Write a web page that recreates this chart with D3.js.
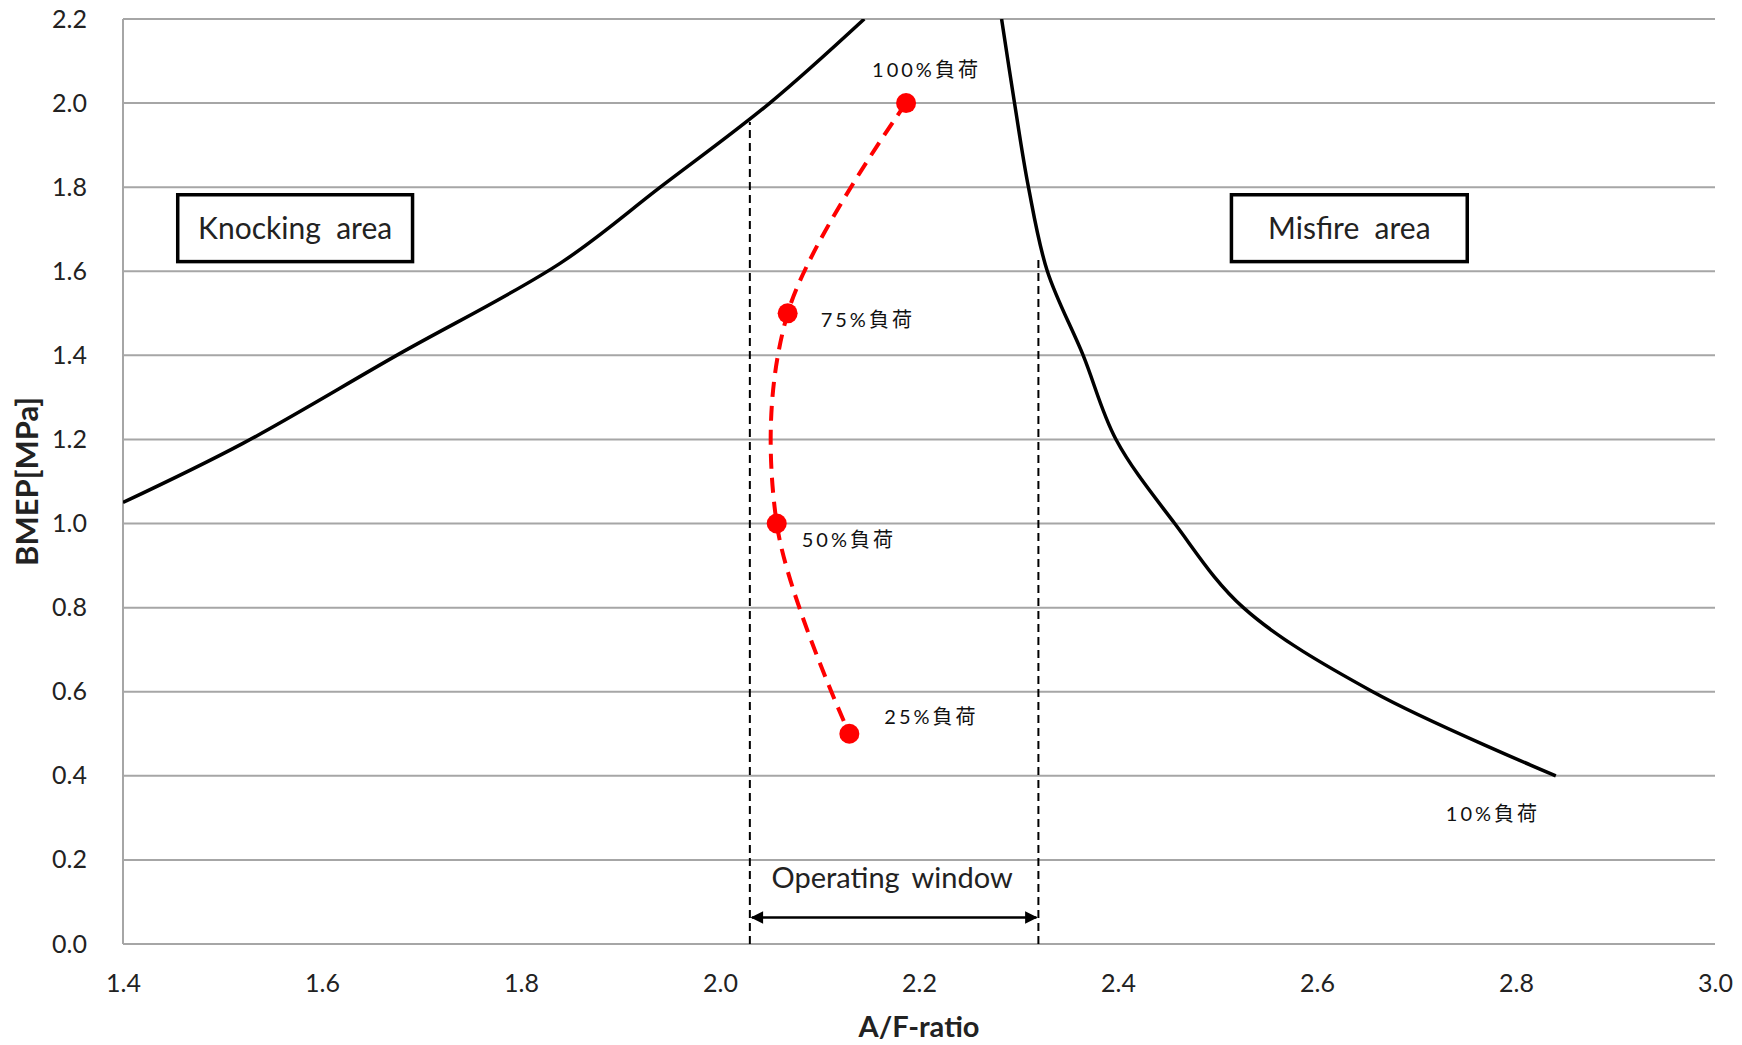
<!DOCTYPE html>
<html>
<head>
<meta charset="utf-8">
<script src="https://cdn.jsdelivr.net/npm/d3@7"></script>
<style>
  body { margin: 0; background: #fff; }
</style>
</head>
<body>
<div id="chart"></div>
<script>
// axis ticks
const xTicks = [1.4, 1.6, 1.8, 2.0, 2.2, 2.4, 2.6, 2.8, 3.0];
const yTicks = [0.0, 0.2, 0.4, 0.6, 0.8, 1.0, 1.2, 1.4, 1.6, 1.8, 2.0, 2.2];

// knocking limit
const knockX = [1.40, 1.52, 1.675, 1.84, 1.94, 2.05, 2.145];
const knockY = [1.05, 1.19, 1.40, 1.62, 1.80, 2.00, 2.20];

// misfire limit
const misfireX = [2.283, 2.296, 2.31, 2.329, 2.365, 2.398, 2.457, 2.526, 2.656, 2.84];
const misfireY = [2.20, 2.00, 1.80, 1.60, 1.40, 1.20, 1.00, 0.80, 0.60, 0.40];

// operating points
const loadLabels = ['100%負荷', '75%負荷', '50%負荷', '25%負荷'];
const loadX = [2.187, 2.068, 2.057, 2.130];
const loadY = [2.00, 1.50, 1.00, 0.50];

// operating window limits
const windowX = [2.03, 2.32];
const windowTop = [1.955, 1.633];

const width = 1742, height = 1045;
const margin = {top: 19, right: 27, bottom: 101, left: 123};
const font = 'Lato, "Noto Sans CJK JP", sans-serif';

const x = d3.scaleLinear().domain([1.4, 3.0]).range([margin.left, width - margin.right]);
const y = d3.scaleLinear().domain([0, 2.2]).range([height - margin.bottom, margin.top]);

const svg = d3.select('#chart').append('svg')
  .attr('width', width)
  .attr('height', height)
  .style('font-family', font);

svg.append('defs').append('clipPath').attr('id', 'plot')
  .append('rect')
  .attr('x', x(1.4)).attr('y', y(2.2))
  .attr('width', x(3.0) - x(1.4)).attr('height', y(0) - y(2.2));

// gridlines
svg.append('g').selectAll('line')
  .data(yTicks)
  .enter().append('line')
  .attr('x1', x(1.4)).attr('x2', x(3.0))
  .attr('y1', d => y(d)).attr('y2', d => y(d))
  .attr('stroke', '#a6a6a6')
  .attr('stroke-width', 2);

svg.append('line')
  .attr('x1', x(1.4)).attr('x2', x(1.4))
  .attr('y1', y(0)).attr('y2', y(2.2))
  .attr('stroke', '#a6a6a6')
  .attr('stroke-width', 2);

// axes
const xAxis = svg.append('g')
  .attr('transform', `translate(0,${y(0)})`)
  .call(d3.axisBottom(x).tickValues(xTicks).tickFormat(d3.format('.1f')).tickSize(0).tickPadding(30));
const yAxis = svg.append('g')
  .attr('transform', `translate(${x(1.4)},0)`)
  .call(d3.axisLeft(y).tickValues(yTicks).tickFormat(d3.format('.1f')).tickSize(0).tickPadding(36));
[xAxis, yAxis].forEach(g => {
  g.select('.domain').remove();
  g.selectAll('text').attr('font-size', 25).attr('font-family', font).attr('fill', '#222');
});

svg.append('text')
  .attr('x', (x(1.4) + x(3.0)) / 2)
  .attr('y', 1037)
  .attr('text-anchor', 'middle')
  .attr('font-size', 29).attr('font-weight', 'bold').attr('fill', '#222')
  .text('A/F-ratio');

svg.append('text')
  .attr('transform', `translate(38,${(y(0) + y(2.2)) / 2}) rotate(-90)`)
  .attr('text-anchor', 'middle')
  .attr('font-size', 31).attr('font-weight', 'bold').attr('fill', '#222')
  .text('BMEP[MPa]');

const plot = svg.append('g').attr('clip-path', 'url(#plot)');

// limit curves
const smooth = d3.line()
  .x(d => x(d[0])).y(d => y(d[1]))
  .curve(d3.curveCatmullRom.alpha(0.5));

plot.append('path')
  .datum(d3.zip(knockX, knockY))
  .attr('d', smooth)
  .attr('fill', 'none').attr('stroke', '#000').attr('stroke-width', 3.5);

plot.append('path')
  .datum(d3.zip(misfireX, misfireY))
  .attr('d', smooth)
  .attr('fill', 'none').attr('stroke', '#000').attr('stroke-width', 3.5);

// operating window
svg.append('g').selectAll('line')
  .data(d3.zip(windowX, windowTop))
  .enter().append('line')
  .attr('x1', d => x(d[0])).attr('x2', d => x(d[0]))
  .attr('y1', y(0)).attr('y2', d => y(d[1]))
  .attr('stroke', '#000').attr('stroke-width', 2)
  .attr('stroke-dasharray', '8,5');

svg.select('defs').append('marker')
  .attr('id', 'arrow')
  .attr('viewBox', '0 0 10 10')
  .attr('refX', 9).attr('refY', 5)
  .attr('markerWidth', 6).attr('markerHeight', 5)
  .attr('markerUnits', 'strokeWidth')
  .attr('orient', 'auto-start-reverse')
  .append('path').attr('d', 'M0,0L10,5L0,10z').attr('fill', '#000');

const arrowY = 0.063;
svg.append('line')
  .attr('x1', x(windowX[0]) + 2).attr('x2', x(windowX[1]) - 2)
  .attr('y1', y(arrowY)).attr('y2', y(arrowY))
  .attr('stroke', '#000').attr('stroke-width', 2.5)
  .attr('marker-start', 'url(#arrow)')
  .attr('marker-end', 'url(#arrow)');

svg.append('text')
  .attr('x', (x(windowX[0]) + x(windowX[1])) / 2 - 2)
  .attr('y', y(0.158))
  .attr('dy', '0.35em')
  .attr('text-anchor', 'middle')
  .attr('font-size', 29).attr('fill', '#222')
  .style('word-spacing', '5px')
  .text('Operating window');

// red operating line
plot.append('path')
  .datum(d3.zip(loadX, loadY))
  .attr('d', d3.line().x(d => x(d[0])).y(d => y(d[1])).curve(d3.curveCatmullRom.alpha(0.5)))
  .attr('fill', 'none').attr('stroke', '#ff0000').attr('stroke-width', 4)
  .attr('stroke-dasharray', '15,9');

plot.append('g').selectAll('circle')
  .data(d3.zip(loadX, loadY))
  .enter().append('circle')
  .attr('cx', d => x(d[0])).attr('cy', d => y(d[1]))
  .attr('r', 10)
  .attr('fill', '#ff0000');

// label offsets in px from each point
const labelOffset = [[-34, -33], [33, 7], [25, 16], [35, -17]];
svg.append('g').selectAll('text')
  .data(loadLabels)
  .enter().append('text')
  .attr('x', (d, i) => x(loadX[i]) + labelOffset[i][0])
  .attr('y', (d, i) => y(loadY[i]) + labelOffset[i][1])
  .attr('dy', '0.35em')
  .attr('font-size', 20).attr('fill', '#111')
  .style('letter-spacing', '3px')
  .text(d => d);

// 10% load label under the end of the misfire curve
svg.append('text')
  .attr('x', x(misfireX[misfireX.length - 1]) - 110)
  .attr('y', y(misfireY[misfireY.length - 1]) + 38)
  .attr('dy', '0.35em')
  .attr('font-size', 20).attr('fill', '#111')
  .style('letter-spacing', '3px')
  .text('10%負荷');

// area boxes
const boxes = [
  {text: 'Knocking  area', x0: 1.455, x1: 1.691},
  {text: 'Misfire  area', x0: 2.514, x1: 2.751}
];
const boxTop = 1.782, boxBottom = 1.623;
const box = svg.append('g').selectAll('g')
  .data(boxes)
  .enter().append('g');
box.append('rect')
  .attr('x', d => x(d.x0)).attr('y', y(boxTop))
  .attr('width', d => x(d.x1) - x(d.x0)).attr('height', y(boxBottom) - y(boxTop))
  .attr('fill', '#fff').attr('stroke', '#000').attr('stroke-width', 3.5);
box.append('text')
  .attr('x', d => (x(d.x0) + x(d.x1)) / 2)
  .attr('y', y((boxTop + boxBottom) / 2))
  .attr('dy', '0.35em')
  .attr('text-anchor', 'middle')
  .attr('font-size', 30).attr('fill', '#222')
  .style('white-space', 'pre')
  .text(d => d.text);
</script>
</body>
</html>
